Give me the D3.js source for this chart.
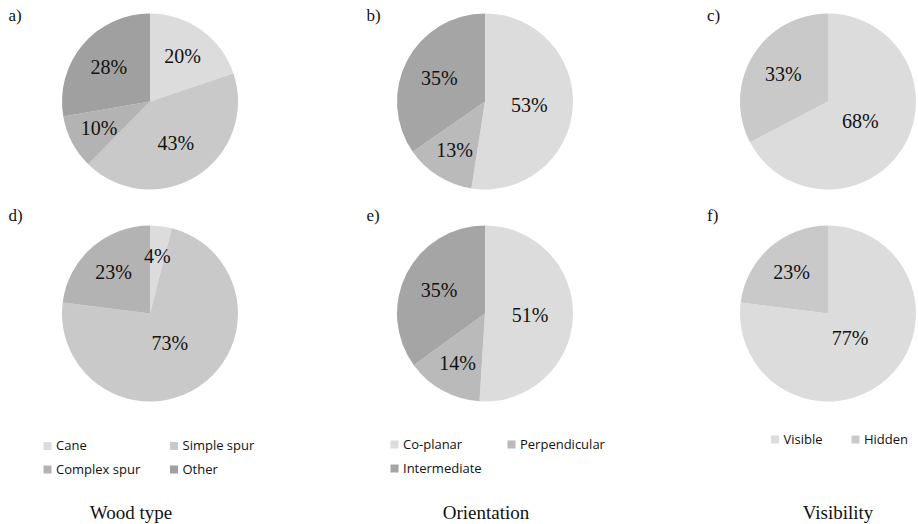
<!DOCTYPE html>
<html>
<head>
<meta charset="utf-8">
<script src="https://cdn.jsdelivr.net/npm/d3@7"></script>
<style>
  html, body { margin: 0; padding: 0; background: #fff; }
  svg { display: block; }
</style>
</head>
<body>
<svg id="chart" width="918" height="524"></svg>
<script>
// ---- Data ----
const woodCategories = ["Cane", "Simple spur", "Complex spur", "Other"];
const woodA = [20, 43, 10, 28];
const woodD = [4, 73, 23, 0];

const orientationCategories = ["Co-planar", "Perpendicular", "Intermediate"];
const orientationB = [53, 13, 35];
const orientationE = [51, 14, 35];

const visibilityCategories = ["Visible", "Hidden"];
const visibilityC = [68, 33];
const visibilityF = [77, 23];

const groupTitles = ["Wood type", "Orientation", "Visibility"];
const panelLetters = ["a)", "b)", "c)", "d)", "e)", "f)"];

// ---- Styles ----
const woodColors = ["#dcdcdc", "#c9c9c9", "#b3b3b3", "#a0a0a0"];
const orientationColors = ["#dcdcdc", "#bababa", "#a5a5a5"];
const visibilityColors = ["#dcdcdc", "#c9c9c9"];

const svg = d3.select("#chart");
const R = 88;

const groups = [
  { cats: woodCategories, top: woodA, bottom: woodD, colors: woodColors,
    cx: 150, letterX: 8.5, legend: { x1: 43.5, x2: 170, y: 442, rowGap: 23.5 }, titleX: 131 },
  { cats: orientationCategories, top: orientationB, bottom: orientationE, colors: orientationColors,
    cx: 485, letterX: 366.5, legend: { x1: 390.5, x2: 507.5, y: 440.5, rowGap: 24 }, titleX: 486 },
  { cats: visibilityCategories, top: visibilityC, bottom: visibilityF, colors: visibilityColors,
    cx: 828, letterX: 707, legend: { x1: 771, x2: 851.5, y: 435.5, rowGap: 24 }, titleX: 838 }
];
const rowsY = [101.5, 313.5];
const letterY = [20.5, 220.5];

const pie = d3.pie().sort(null).value(d => d.v);
const arc = d3.arc().innerRadius(0).outerRadius(R);

function labelDist(a) {
  const th = a.endAngle - a.startAngle;
  const c = th > 0 ? 4 * R * Math.sin(th / 2) / (3 * th) : R * 2 / 3;
  return 24 + 0.58 * c;
}

groups.forEach((g, gi) => {
  const color = d3.scaleOrdinal().domain(g.cats).range(g.colors);
  [g.top, g.bottom].forEach((vals, ri) => {
    const data = g.cats.map((c, i) => ({ c, v: vals[i] }));
    const arcs = pie(data);
    const gp = svg.append("g").attr("transform", `translate(${g.cx},${rowsY[ri]})`);
    gp.selectAll("path").data(arcs).join("path")
      .attr("d", arc)
      .attr("fill", d => color(d.data.c));
    gp.selectAll("text").data(arcs.filter(d => d.data.v > 0)).join("text")
      .attr("x", d => { const m = (d.startAngle + d.endAngle) / 2; return Math.sin(m) * labelDist(d); })
      .attr("y", d => { const m = (d.startAngle + d.endAngle) / 2; return -Math.cos(m) * labelDist(d); })
      .attr("text-anchor", "middle")
      .attr("dy", "0.35em")
      .attr("font-family", "'Liberation Serif', 'Times New Roman', serif")
      .attr("font-size", 20)
      .attr("fill", "#111")
      .text(d => d.data.v + "%");
    svg.append("text")
      .attr("x", g.letterX).attr("y", letterY[ri])
      .attr("font-family", "'Liberation Serif', 'Times New Roman', serif")
      .attr("font-size", 17)
      .attr("fill", "#111")
      .text(panelLetters[ri * 3 + gi]);
  });

  // legend
  const lg = svg.append("g");
  const items = lg.selectAll("g").data(g.cats).join("g")
    .attr("transform", (d, i) => {
      const col = i % 2, row = Math.floor(i / 2);
      return `translate(${col === 0 ? g.legend.x1 : g.legend.x2},${g.legend.y + row * g.legend.rowGap})`;
    });
  items.append("rect").attr("width", 8).attr("height", 8).attr("fill", d => color(d));
  items.append("text")
    .attr("x", 12.5).attr("y", 8.3)
    .attr("font-family", "'Open Sans', sans-serif")
    .attr("font-size", 13)
    .attr("fill", "#111")
    .text(d => d);

  svg.append("text")
    .attr("x", g.titleX).attr("y", 518.5)
    .attr("text-anchor", "middle")
    .attr("font-family", "'Liberation Serif', 'Times New Roman', serif")
    .attr("font-size", 19)
    .attr("fill", "#111")
    .text(groupTitles[gi]);
});
</script>
</body>
</html>
